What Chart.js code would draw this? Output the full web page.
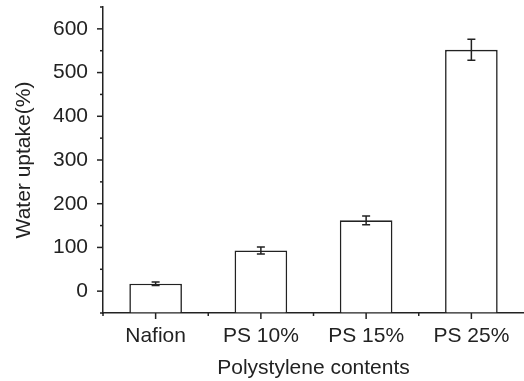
<!DOCTYPE html>
<html>
<head>
<meta charset="utf-8">
<script src="https://cdn.jsdelivr.net/npm/chart.js@4"></script>
<style>
    body { margin: 0; background: #fff; }
</style>
</head>
<body>
<canvas id="myChart" width="524" height="381"></canvas>
<script>
// data
const categories = ['Nafion', 'PS 10%', 'PS 15%', 'PS 25%'];
const uptake = [17, 93, 162, 552];
const uptakeErr = [4, 8, 10, 24];
const yMin = -50;
const yMax = 650;
const yLabels = [0, 100, 200, 300, 400, 500, 600];

const ink = '#222222';
const font = { family: "'Liberation Sans', Arial, sans-serif", size: 21 };

// error bars + tick marks, drawn from the chart's own scales
const extrasPlugin = {
    id: 'extras',
    afterDatasetsDraw(chart) {
        const ctx = chart.ctx;
        const xScale = chart.scales.x;
        const yScale = chart.scales.y;
        const meta = chart.getDatasetMeta(0);
        ctx.save();
        ctx.strokeStyle = ink;
        ctx.lineWidth = 1.5;

        meta.data.forEach((bar, i) => {
            const yTop = yScale.getPixelForValue(uptake[i] + uptakeErr[i]);
            const yBot = yScale.getPixelForValue(uptake[i] - uptakeErr[i]);
            ctx.beginPath();
            ctx.moveTo(bar.x, yTop);
            ctx.lineTo(bar.x, yBot);
            ctx.moveTo(bar.x - 4, yTop);
            ctx.lineTo(bar.x + 4, yTop);
            ctx.moveTo(bar.x - 4, yBot);
            ctx.lineTo(bar.x + 4, yBot);
            ctx.stroke();
        });

        // y ticks: major every 100, minor every 50
        const left = chart.chartArea.left;
        for (let v = yMin; v <= yMax; v += 50) {
            const py = yScale.getPixelForValue(v);
            const len = yLabels.includes(v) ? 6 : 3;
            ctx.beginPath();
            ctx.moveTo(left - len, py);
            ctx.lineTo(left, py);
            ctx.stroke();
        }

        // x ticks: major at categories, minor between
        const bottom = chart.chartArea.bottom;
        categories.forEach((c, i) => {
            const px = xScale.getPixelForValue(i);
            ctx.beginPath();
            ctx.moveTo(px, bottom);
            ctx.lineTo(px, bottom + 6);
            ctx.stroke();
            if (i > 0) {
                const mid = (px + xScale.getPixelForValue(i - 1)) / 2;
                ctx.beginPath();
                ctx.moveTo(mid, bottom);
                ctx.lineTo(mid, bottom + 3);
                ctx.stroke();
            }
        });
        // y axis runs a little past the x axis
        ctx.beginPath();
        ctx.moveTo(left, bottom);
        ctx.lineTo(left, bottom + 3);
        ctx.stroke();
        ctx.restore();
    }
};

const config = {
    type: 'bar',
    data: {
        labels: categories,
        datasets: [{
            data: uptake,
            base: yMin,
            backgroundColor: '#ffffff',
            borderColor: ink,
            borderWidth: 1.6,
            borderSkipped: 'bottom',
            categoryPercentage: 1,
            barPercentage: 0.5
        }]
    },
    options: {
        responsive: false,
        animation: false,
        layout: { padding: { top: 7, right: 0, left: 0, bottom: 0 } },
        plugins: {
            legend: { display: false },
            tooltip: { enabled: false }
        },
        scales: {
            x: {
                offset: true,
                grid: { display: true, drawOnChartArea: false, drawTicks: false },
                border: { display: true, color: ink, width: 1.5 },
                ticks: { color: ink, font: font, padding: 11, maxRotation: 0 },
                title: {
                    display: true,
                    text: 'Polystylene contents',
                    color: ink,
                    font: font,
                    padding: { top: 0, bottom: 0 }
                },
                afterFit: (scale) => {
                    scale.height = 68;
                    scale.paddingLeft = 0;
                    scale.paddingRight = 0;
                }
            },
            y: {
                min: yMin,
                max: yMax,
                grid: { display: true, drawOnChartArea: false, drawTicks: false },
                border: { display: true, color: ink, width: 1.5 },
                ticks: {
                    stepSize: 50,
                    autoSkip: false,
                    color: ink,
                    font: font,
                    padding: 15,
                    callback: (v) => yLabels.includes(v) ? v : ''
                },
                title: {
                    display: true,
                    text: 'Water uptake(%)',
                    color: ink,
                    font: font,
                    padding: { top: 12, bottom: 0 }
                },
                afterFit: (scale) => {
                    scale.width = 103;
                    scale.paddingTop = 0;
                    scale.paddingBottom = 0;
                }
            }
        }
    },
    plugins: [extrasPlugin]
};

new Chart(document.getElementById('myChart').getContext('2d'), config);
</script>
</body>
</html>
